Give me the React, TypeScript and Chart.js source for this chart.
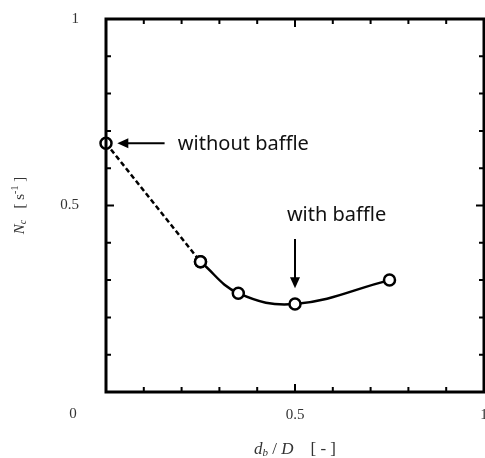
import React, { useEffect, useRef } from "react";
import { Chart, registerables } from "chart.js";
Chart.register(...registerables);

// Data
const dbWithout = [0, 0.25];
const ncWithout = [0.667, 0.349];
const dbWith = [0.25, 0.35, 0.5, 0.75];
const ncWith = [0.349, 0.265, 0.236, 0.3];
const xTickLabels = ["0.5", "1"];
const yTickLabels = ["0.5", "1"];
const cornerLabel = "0";
const annotWithout = "without baffle";
const annotWith = "with baffle";

const SERIF = "'Liberation Serif', 'Times New Roman', serif";
const SANS = "'Noto Sans', 'DejaVu Sans', sans-serif";

function drawRich(ctx: CanvasRenderingContext2D, parts: { t: string; f: string; dy: number }[], cx: number, cy: number) {
  let total = 0;
  for (const p of parts) {
    ctx.font = p.f;
    total += ctx.measureText(p.t).width;
  }
  let x = cx - total / 2;
  ctx.textAlign = "left";
  ctx.textBaseline = "middle";
  for (const p of parts) {
    ctx.font = p.f;
    ctx.fillText(p.t, x, cy + p.dy);
    x += ctx.measureText(p.t).width;
  }
}

function zeroPadding(s: any) {
  s.paddingTop = 0;
  s.paddingBottom = 0;
  s.paddingLeft = 0;
  s.paddingRight = 0;
}

const framePlugin = {
  id: "frame",
  afterDraw(chart: any) {
    const ctx: CanvasRenderingContext2D = chart.ctx;
    const { left, right, top, bottom } = chart.chartArea;
    const xs = chart.scales.x;
    const ys = chart.scales.y;
    ctx.save();
    ctx.strokeStyle = "#000";
    ctx.fillStyle = "#000";
    // inward ticks
    ctx.lineWidth = 2;
    for (let i = 1; i < 10; i++) {
      const v = i / 10;
      const len = i === 5 ? 8 : 5;
      const px = xs.getPixelForValue(v);
      const py = ys.getPixelForValue(v);
      ctx.beginPath();
      ctx.moveTo(px, bottom);
      ctx.lineTo(px, bottom - len);
      ctx.moveTo(px, top);
      ctx.lineTo(px, top + len);
      ctx.moveTo(left, py);
      ctx.lineTo(left + len, py);
      ctx.moveTo(right, py);
      ctx.lineTo(right - len, py);
      ctx.stroke();
    }
    // frame
    ctx.lineWidth = 3;
    ctx.strokeRect(left, top, right - left, bottom - top);

    // corner label
    ctx.font = `15px ${SERIF}`;
    ctx.fillStyle = "#333";
    ctx.textAlign = "center";
    ctx.textBaseline = "middle";
    ctx.fillText(cornerLabel, left - 33, bottom + 22);

    // y axis title (rotated)
    ctx.fillStyle = "#333";
    ctx.save();
    ctx.translate(20, ys.getPixelForValue(0.5));
    ctx.rotate(-Math.PI / 2);
    drawRich(
      ctx,
      [
        { t: "N", f: `italic 15px ${SERIF}`, dy: 0 },
        { t: "c", f: `italic 10px ${SERIF}`, dy: 3 },
        { t: "   [ s", f: `15px ${SERIF}`, dy: 0 },
        { t: "-1", f: `10px ${SERIF}`, dy: -5 },
        { t: " ]", f: `15px ${SERIF}`, dy: 0 },
      ],
      0,
      0
    );
    ctx.restore();

    // x axis title
    drawRich(
      ctx,
      [
        { t: "d", f: `italic 17px ${SERIF}`, dy: 0 },
        { t: "b", f: `italic 11px ${SERIF}`, dy: 3 },
        { t: " / ", f: `17px ${SERIF}`, dy: 0 },
        { t: "D", f: `italic 17px ${SERIF}`, dy: 0 },
        { t: "    [ - ]", f: `17px ${SERIF}`, dy: 0 },
      ],
      xs.getPixelForValue(0.5),
      450
    );

    // annotations
    ctx.strokeStyle = "#000";
    ctx.fillStyle = "#000";
    ctx.lineWidth = 2;
    // without baffle arrow (horizontal, pointing left)
    const ay = ys.getPixelForValue(ncWithout[0]);
    const ax1 = xs.getPixelForValue(0.155);
    const ax0 = xs.getPixelForValue(0.03);
    ctx.beginPath();
    ctx.moveTo(ax1, ay);
    ctx.lineTo(ax0 + 8, ay);
    ctx.stroke();
    ctx.beginPath();
    ctx.moveTo(ax0, ay);
    ctx.lineTo(ax0 + 11, ay - 5);
    ctx.lineTo(ax0 + 11, ay + 5);
    ctx.closePath();
    ctx.fill();
    // with baffle arrow (vertical, pointing down)
    const bx = xs.getPixelForValue(dbWith[2]);
    const by0 = ys.getPixelForValue(0.41);
    const by1 = ys.getPixelForValue(0.278);
    ctx.beginPath();
    ctx.moveTo(bx, by0);
    ctx.lineTo(bx, by1 - 8);
    ctx.stroke();
    ctx.beginPath();
    ctx.moveTo(bx, by1);
    ctx.lineTo(bx - 5, by1 - 11);
    ctx.lineTo(bx + 5, by1 - 11);
    ctx.closePath();
    ctx.fill();

    ctx.fillStyle = "#111";
    ctx.font = `20px ${SANS}`;
    ctx.textAlign = "left";
    ctx.textBaseline = "middle";
    ctx.fillText(annotWithout, xs.getPixelForValue(0.19), ay + 1);
    ctx.textAlign = "center";
    ctx.fillText(annotWith, xs.getPixelForValue(0.61), ys.getPixelForValue(0.475));
    ctx.restore();
  },
};

export default function App() {
  const ref = useRef<HTMLCanvasElement | null>(null);
  useEffect(() => {
    if (!ref.current) return;
    const pointStyle = {
      pointRadius: 5.5,
      pointBackgroundColor: "#fff",
      pointBorderColor: "#000",
      pointBorderWidth: 2.5,
    };
    const chart = new Chart(ref.current, {
      type: "line",
      data: {
        datasets: [
          {
            data: dbWithout.map((x, i) => ({ x, y: ncWithout[i] })),
            borderColor: "#000",
            borderWidth: 2.5,
            borderDash: [5, 3],
            tension: 0,
            clip: false as any,
            ...pointStyle,
          },
          {
            data: dbWith.map((x, i) => ({ x, y: ncWith[i] })),
            borderColor: "#000",
            borderWidth: 2.5,
            tension: 0.4,
            clip: false as any,
            ...pointStyle,
          },
        ],
      },
      options: {
        animation: false,
        responsive: true,
        maintainAspectRatio: false,
        layout: { padding: { top: 19, right: 1, left: 0, bottom: 0 }, autoPadding: false } as any,
        plugins: { legend: { display: false }, tooltip: { enabled: false } },
        scales: {
          x: {
            type: "linear",
            min: 0,
            max: 1,
            grid: { display: false, drawTicks: false },
            border: { display: false },
            afterFit: (s: any) => {
              s.height = 66;
              zeroPadding(s);
            },
            ticks: {
              stepSize: 0.1,
              autoSkip: false,
              maxRotation: 0,
              padding: 14,
              color: "#333",
              font: { family: SERIF, size: 15 },
              callback: (v: any) => {
                const s = String(Math.round(Number(v) * 10) / 10);
                return xTickLabels.includes(s) ? s : "";
              },
            },
          },
          y: {
            type: "linear",
            min: 0,
            max: 1,
            grid: { display: false, drawTicks: false },
            border: { display: false },
            afterFit: (s: any) => {
              s.width = 106;
              zeroPadding(s);
            },
            ticks: {
              stepSize: 0.1,
              autoSkip: false,
              padding: 27,
              color: "#333",
              font: { family: SERIF, size: 15 },
              callback: (v: any) => {
                const s = String(Math.round(Number(v) * 10) / 10);
                return yTickLabels.includes(s) ? s : "";
              },
            },
          },
        },
      },
      plugins: [framePlugin],
    });
    return () => chart.destroy();
  }, []);
  return (
    <div style={{ position: "absolute", left: 0, top: 0, width: 485, height: 458, background: "#fff" }}>
      <canvas ref={ref} />
    </div>
  );
}
